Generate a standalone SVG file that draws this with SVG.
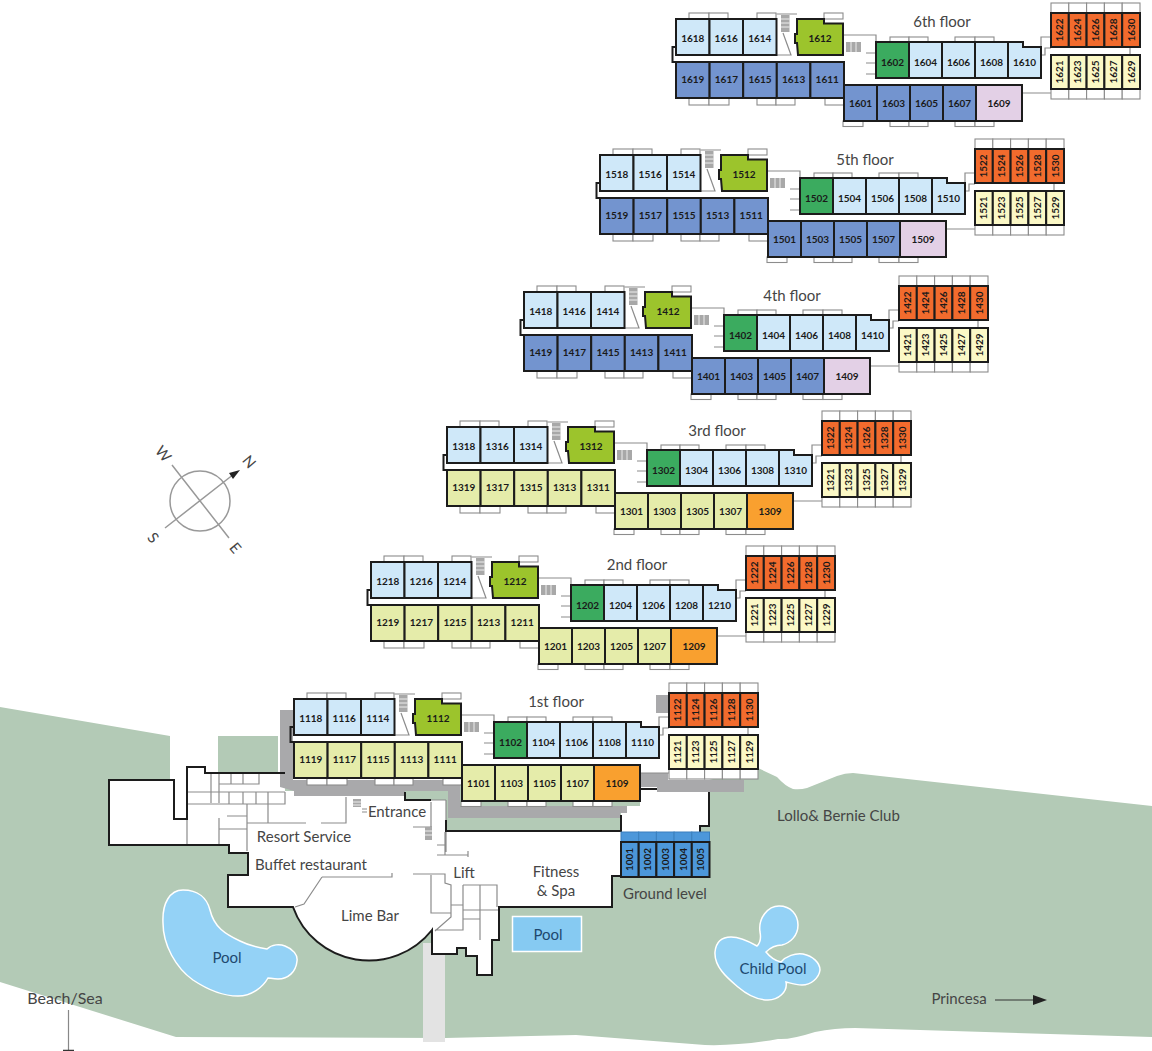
<svg xmlns="http://www.w3.org/2000/svg" xmlns:xlink="http://www.w3.org/1999/xlink" width="1152" height="1051" viewBox="0 0 1152 1051">
<style>
text{font-family:"Lato","Liberation Sans",sans-serif;fill:#454545;text-anchor:middle}
.l{font-size:15px}
.f{font-size:15px}
.p{font-size:15px;fill:#20486e}
.n{font-size:10px;font-weight:700;fill:#1a1a1a}
.m{stroke:#1c1c1c;stroke-width:2}
.lb{fill:#cfe8f9}.db{fill:#7394cf}.lg{fill:#e5ecaa}.ye{fill:#fbf8c6}.or{fill:#f26b2d}.am{fill:#f9a02f}.pu{fill:#e3d0e6}.gr{fill:#3bab5f}.li{fill:#9cc42c}.gb{fill:#4c97da}
.b{fill:#fff;stroke:#8c8c8c;stroke-width:1.1}
.g{fill:none;stroke:#8c8c8c;stroke-width:1.2}
.k{fill:none;stroke:#1c1c1c;stroke-width:2}
.w{fill:#94d2f6;stroke:#fff;stroke-width:1.5}
.s{fill:#a8a8a8}
.st{stroke:#fff;stroke-width:.8}
</style>
<defs>
<g id="frame">
<rect class="b" x="689" y="13" width="20" height="6"/><rect class="b" x="709" y="13" width="19" height="6"/><rect class="b" x="757" y="13" width="19" height="6"/><rect class="b" x="824" y="13" width="19" height="6"/>
<rect class="b" x="689" y="98" width="20" height="7"/><rect class="b" x="709" y="98" width="20" height="7"/><rect class="b" x="757" y="98" width="19" height="7"/><rect class="b" x="776" y="98" width="19" height="7"/><rect class="b" x="825" y="98" width="19" height="7"/>
<rect class="b" x="890" y="37" width="19" height="5"/><rect class="b" x="909" y="37" width="19" height="5"/><rect class="b" x="955" y="37" width="20" height="5"/><rect class="b" x="975" y="37" width="19" height="5"/>
<rect class="b" x="843" y="121" width="20" height="5.500"/><rect class="b" x="890" y="121" width="19" height="5.500"/><rect class="b" x="909" y="121" width="19" height="5.500"/><rect class="b" x="955" y="121" width="20" height="5.500"/><rect class="b" x="975" y="121" width="19" height="5.500"/>
<rect class="b" x="1051" y="3" width="17.800" height="10"/><rect class="b" x="1068.800" y="3" width="17.800" height="10"/><rect class="b" x="1086.600" y="3" width="17.800" height="10"/><rect class="b" x="1104.400" y="3" width="17.800" height="10"/><rect class="b" x="1122.200" y="3" width="17.800" height="10"/>
<rect class="b" x="1051" y="89" width="17.800" height="10"/><rect class="b" x="1068.800" y="89" width="17.800" height="10"/><rect class="b" x="1086.600" y="89" width="17.800" height="10"/><rect class="b" x="1104.400" y="89" width="17.800" height="10"/><rect class="b" x="1122.200" y="89" width="17.800" height="10"/>
<path class="g" d="M776.500,14H797M783,33L791,55H776.500M843,35H876V42M866,53H876M866,63H876M866,74H876M1041,55H1045V48H1051M1041,47V37H1051M1130,47V55M1022,93H1051"/>
<rect class="s" x="781" y="15" width="8.500" height="17"/><path class="st" d="M781,19H789.500M781,23H789.500M781,27H789.500"/>
<rect class="s" x="846" y="42" width="15" height="10"/><path class="st" d="M851,42V52M856,42V52"/>
<path class="k" d="M676,47H672.500V62H676"/>
</g>
</defs>

<g id="ground-plan">
<path id="lawn" fill="#b3cab6" d="M0,707L170,736V780H218V736H278V780H709L758,768L777,777Q785,786 793,789Q800,790 807,788L837,776Q845,773 853,773L1152,806V1037L855,1028Q835,1028 815,1032Q790,1040 778,1039Q740,1046 705,1045L576,1035L445,1038L176,1037L0,982Z"/>
<rect x="170" y="736" width="48" height="84" fill="#fff"/>
<rect id="path-to-beach" x="423" y="943" width="22" height="99" fill="#e3e3e3"/>
<path id="building-fill" fill="#fff" d="M109,780H174V819H187V767H205V773H285V791H405V800H446V832H621V806H640V780H709V826H700V832H709V877H612V907H499V940H492V975H477V956H466V948H457V954H432V930A80.500,80.500 0 0 1 293,908H228V875H248V853H229V845H109Z"/>
<rect x="446" y="816" width="175" height="15" fill="#b3cab6"/>
<rect x="407" y="791" width="41" height="9" fill="#b3cab6"/>
<path id="terrace" fill="#a9a9ab" d="M280,710H293V780H460V806H627V813H620V818H448V791H405V796H294V791L280,787ZM640,773H668V780H744V792H657V787H640ZM656,695H668V713H656Z"/>
<path id="interior" class="g" d="M187,818V845M211,773V803M219,773V803M219,784H259V773M231,773V784M243,773V784M187,792H285M187,804H285V792M229,792V804M243,792V804M256,792V804M268,792V823M247,804V851M247,823H306M321,823H346V797M227,816H247M219,818V845M219,829H247M322,877H392V873M322,877L304,904L295,907M413,874H445V883L451,885V917L435,931M431,875V913H451M463,885H497V907M463,885V930H435M480,885V940M451,905H463M463,910H498M463,919H480M437,845H445M437,855H468M468,851V857M445,832V855M446,800V852M413,827H432M431,802V827M405,800H446M362,809H367M362,812H367"/>
<rect class="s" x="353" y="799" width="8" height="8"/>
<path class="st" d="M353,802H361M353,805H361"/>
<rect class="s" x="425" y="827" width="7" height="13"/>
<path class="st" d="M425,831H432M425,835H432"/>
<path id="building-wall" class="k" d="M285,773H205V767H187V819H174V780H109V845H229V853H248V875H228V907H293A80.500,80.500 0 0 0 432,930V954H457V948H466V956H477V975H492V940H499V907H612V876H621M709,792V826H700V832M640,789H657M446,820V831H621V815M405,792V800H431"/>
<g id="pool-left"><path class="w" d="M163,923C162,903 170,890 183,890C198,890 207,898 210,910C214,927 225,934 240,941C250,946 260,948 267,949C272,944 280,944 285,946C293,949 298,955 297,961C296,972 288,979 278,979C273,979 270,978 268,978C263,987 252,996 238,996C222,996 205,988 193,980C176,968 163,945 163,923Z"/><text class="p" x="227" y="963">Pool</text></g>
<g id="pool-fitness"><rect x="512.500" y="916.500" width="69" height="35" fill="#86caf2" stroke="#fff" stroke-width="1.500"/><text class="p" x="548" y="940">Pool</text></g>
<g id="pool-child"><path class="w" d="M715,952C716,942 722,937 731,937C740,937 750,942 757,946C760,943 761,937 760,932C758,918 768,906 779,906C791,906 798,915 798,925C798,936 790,943 782,945C777,945 771,947 766,952C770,957 776,961 781,962C786,956 795,953 803,954C813,956 820,963 820,970C819,978 811,985 802,985C796,985 790,983 786,982C788,992 778,1000 768,1000C755,1000 745,993 738,987C730,980 714,968 715,952Z"/><text class="p" x="773" y="974">Child Pool</text></g>
</g>

<g id="compass">
<circle cx="200" cy="501" r="30" fill="none" stroke="#999" stroke-width="1.500"/>
<path fill="none" stroke="#999" stroke-width="1.500" d="M172,465L229,538M165,528L234,474"/>
<path fill="#222" d="M240,470L229,473L233,479Z"/>
<text class="l" font-size="14" transform="translate(249,462) rotate(50)" y="5">N</text>
<text class="l" transform="translate(163,454) rotate(50)" y="5">W</text>
<text class="l" transform="translate(153,538) rotate(50)" y="5">S</text>
<text class="l" transform="translate(235,548) rotate(50)" y="5">E</text>
</g>

<g id="labels">
<text class="l" x="304" y="842">Resort Service</text>
<text class="l" x="311" y="870">Buffet restaurant</text>
<text class="l" x="397" y="817">Entrance</text>
<text class="l" x="370" y="921">Lime Bar</text>
<text class="l" x="464" y="878">Lift</text>
<text class="l" x="556" y="877">Fitness</text>
<text class="l" x="556" y="896">&amp; Spa</text>
<text class="l" x="665" y="899">Ground level</text>
<text class="l" x="838.500" y="821">Lollo&amp; Bernie Club</text>
<text class="l" x="959" y="1004">Princesa</text>
<text class="l" x="65" y="1004" style="font-size:16px">Beach/Sea</text>
</g>

<g id="connectors">
<path fill="none" stroke="#333" stroke-width="1" d="M995,1000H1034"/>
<path fill="#222" d="M1033,995L1047,1000L1033,1005Z"/>
<path fill="none" stroke="#888" stroke-width="1.200" d="M68.500,1010V1050"/>
<path fill="none" stroke="#333" stroke-width="1.500" d="M63,1050.500H74"/>
</g>

<g id="ground-level">
<rect x="621" y="832" width="17.700" height="10" class="gb" stroke="#3a7fbd"/><rect x="638.700" y="832" width="17.700" height="10" class="gb" stroke="#3a7fbd"/><rect x="656.400" y="832" width="17.700" height="10" class="gb" stroke="#3a7fbd"/><rect x="674.100" y="832" width="17.700" height="10" class="gb" stroke="#3a7fbd"/><rect x="691.800" y="832" width="17.700" height="10" class="gb" stroke="#3a7fbd"/>
<g id="r1001"><rect class="m gb" x="621" y="842" width="17.700" height="35"/><text class="n" transform="translate(629.900,859.500) rotate(-90)" y="3.500">1001</text></g>
<g id="r1002"><rect class="m gb" x="638.700" y="842" width="17.700" height="35"/><text class="n" transform="translate(647.600,859.500) rotate(-90)" y="3.500">1002</text></g>
<g id="r1003"><rect class="m gb" x="656.400" y="842" width="17.700" height="35"/><text class="n" transform="translate(665.300,859.500) rotate(-90)" y="3.500">1003</text></g>
<g id="r1004"><rect class="m gb" x="674.100" y="842" width="17.700" height="35"/><text class="n" transform="translate(683,859.500) rotate(-90)" y="3.500">1004</text></g>
<g id="r1005"><rect class="m gb" x="691.800" y="842" width="17.700" height="35"/><text class="n" transform="translate(700.700,859.500) rotate(-90)" y="3.500">1005</text></g>
</g>

<g id="floor-6"><use href="#frame" xlink:href="#frame"/>
<text class="f" x="942" y="27">6th floor</text>
<g id="r1618"><rect class="m lb" x="676" y="19" width="33.500" height="36"/><text class="n" x="692.800" y="41.500">1618</text></g>
<g id="r1616"><rect class="m lb" x="709.500" y="19" width="33.500" height="36"/><text class="n" x="726.200" y="41.500">1616</text></g>
<g id="r1614"><rect class="m lb" x="743" y="19" width="33.500" height="36"/><text class="n" x="759.800" y="41.500">1614</text></g>
<g id="r1612"><path class="m li" d="M797,19H824V23.500H843V55H798L797,43H795V34H797Z"/><text class="n" x="820" y="41.500">1612</text></g>
<g id="r1619"><rect class="m db" x="676" y="62" width="33.600" height="36"/><text class="n" x="692.800" y="82.500">1619</text></g>
<g id="r1617"><rect class="m db" x="709.600" y="62" width="33.600" height="36"/><text class="n" x="726.400" y="82.500">1617</text></g>
<g id="r1615"><rect class="m db" x="743.200" y="62" width="33.600" height="36"/><text class="n" x="760" y="82.500">1615</text></g>
<g id="r1613"><rect class="m db" x="776.800" y="62" width="33.600" height="36"/><text class="n" x="793.600" y="82.500">1613</text></g>
<g id="r1611"><rect class="m db" x="810.400" y="62" width="33.600" height="36"/><text class="n" x="827.200" y="82.500">1611</text></g>
<g id="r1602"><rect class="m gr" x="876" y="42" width="33" height="36"/><text class="n" x="892.500" y="65.500">1602</text></g>
<g id="r1604"><rect class="m lb" x="909" y="42" width="33" height="36"/><text class="n" x="925.500" y="65.500">1604</text></g>
<g id="r1606"><rect class="m lb" x="942" y="42" width="33" height="36"/><text class="n" x="958.500" y="65.500">1606</text></g>
<g id="r1608"><rect class="m lb" x="975" y="42" width="33" height="36"/><text class="n" x="991.500" y="65.500">1608</text></g>
<g id="r1610"><path class="m lb" d="M1008,42H1023V47H1041V78H1008Z"/><text class="n" x="1024.500" y="65.500">1610</text></g>
<g id="r1601"><rect class="m db" x="844" y="85" width="33" height="36"/><text class="n" x="860.500" y="106.500">1601</text></g>
<g id="r1603"><rect class="m db" x="877" y="85" width="33" height="36"/><text class="n" x="893.500" y="106.500">1603</text></g>
<g id="r1605"><rect class="m db" x="910" y="85" width="33" height="36"/><text class="n" x="926.500" y="106.500">1605</text></g>
<g id="r1607"><rect class="m db" x="943" y="85" width="33" height="36"/><text class="n" x="959.500" y="106.500">1607</text></g>
<g id="r1609"><rect class="m pu" x="976" y="85" width="46" height="36"/><text class="n" x="999" y="106.500">1609</text></g>
<g id="r1622"><rect class="m or" x="1051" y="13" width="17.800" height="34"/><text class="n" transform="translate(1059.900,30) rotate(-90)" y="3.500">1622</text></g>
<g id="r1624"><rect class="m or" x="1068.800" y="13" width="17.800" height="34"/><text class="n" transform="translate(1077.700,30) rotate(-90)" y="3.500">1624</text></g>
<g id="r1626"><rect class="m or" x="1086.600" y="13" width="17.800" height="34"/><text class="n" transform="translate(1095.500,30) rotate(-90)" y="3.500">1626</text></g>
<g id="r1628"><rect class="m or" x="1104.400" y="13" width="17.800" height="34"/><text class="n" transform="translate(1113.300,30) rotate(-90)" y="3.500">1628</text></g>
<g id="r1630"><rect class="m or" x="1122.200" y="13" width="17.800" height="34"/><text class="n" transform="translate(1131.100,30) rotate(-90)" y="3.500">1630</text></g>
<g id="r1621"><rect class="m ye" x="1051" y="55" width="17.800" height="34"/><text class="n" transform="translate(1059.900,72) rotate(-90)" y="3.500">1621</text></g>
<g id="r1623"><rect class="m ye" x="1068.800" y="55" width="17.800" height="34"/><text class="n" transform="translate(1077.700,72) rotate(-90)" y="3.500">1623</text></g>
<g id="r1625"><rect class="m ye" x="1086.600" y="55" width="17.800" height="34"/><text class="n" transform="translate(1095.500,72) rotate(-90)" y="3.500">1625</text></g>
<g id="r1627"><rect class="m ye" x="1104.400" y="55" width="17.800" height="34"/><text class="n" transform="translate(1113.300,72) rotate(-90)" y="3.500">1627</text></g>
<g id="r1629"><rect class="m ye" x="1122.200" y="55" width="17.800" height="34"/><text class="n" transform="translate(1131.100,72) rotate(-90)" y="3.500">1629</text></g>
</g>

<g id="floor-5" transform="translate(-76,136)"><use href="#frame" xlink:href="#frame"/>
<text class="f" x="941" y="29">5th floor</text>
<g id="r1518"><rect class="m lb" x="676" y="19" width="33.500" height="36"/><text class="n" x="692.800" y="41.500">1518</text></g>
<g id="r1516"><rect class="m lb" x="709.500" y="19" width="33.500" height="36"/><text class="n" x="726.200" y="41.500">1516</text></g>
<g id="r1514"><rect class="m lb" x="743" y="19" width="33.500" height="36"/><text class="n" x="759.800" y="41.500">1514</text></g>
<g id="r1512"><path class="m li" d="M797,19H824V23.500H843V55H798L797,43H795V34H797Z"/><text class="n" x="820" y="41.500">1512</text></g>
<g id="r1519"><rect class="m db" x="676" y="62" width="33.600" height="36"/><text class="n" x="692.800" y="82.500">1519</text></g>
<g id="r1517"><rect class="m db" x="709.600" y="62" width="33.600" height="36"/><text class="n" x="726.400" y="82.500">1517</text></g>
<g id="r1515"><rect class="m db" x="743.200" y="62" width="33.600" height="36"/><text class="n" x="760" y="82.500">1515</text></g>
<g id="r1513"><rect class="m db" x="776.800" y="62" width="33.600" height="36"/><text class="n" x="793.600" y="82.500">1513</text></g>
<g id="r1511"><rect class="m db" x="810.400" y="62" width="33.600" height="36"/><text class="n" x="827.200" y="82.500">1511</text></g>
<g id="r1502"><rect class="m gr" x="876" y="42" width="33" height="36"/><text class="n" x="892.500" y="65.500">1502</text></g>
<g id="r1504"><rect class="m lb" x="909" y="42" width="33" height="36"/><text class="n" x="925.500" y="65.500">1504</text></g>
<g id="r1506"><rect class="m lb" x="942" y="42" width="33" height="36"/><text class="n" x="958.500" y="65.500">1506</text></g>
<g id="r1508"><rect class="m lb" x="975" y="42" width="33" height="36"/><text class="n" x="991.500" y="65.500">1508</text></g>
<g id="r1510"><path class="m lb" d="M1008,42H1023V47H1041V78H1008Z"/><text class="n" x="1024.500" y="65.500">1510</text></g>
<g id="r1501"><rect class="m db" x="844" y="85" width="33" height="36"/><text class="n" x="860.500" y="106.500">1501</text></g>
<g id="r1503"><rect class="m db" x="877" y="85" width="33" height="36"/><text class="n" x="893.500" y="106.500">1503</text></g>
<g id="r1505"><rect class="m db" x="910" y="85" width="33" height="36"/><text class="n" x="926.500" y="106.500">1505</text></g>
<g id="r1507"><rect class="m db" x="943" y="85" width="33" height="36"/><text class="n" x="959.500" y="106.500">1507</text></g>
<g id="r1509"><rect class="m pu" x="976" y="85" width="46" height="36"/><text class="n" x="999" y="106.500">1509</text></g>
<g id="r1522"><rect class="m or" x="1051" y="13" width="17.800" height="34"/><text class="n" transform="translate(1059.900,30) rotate(-90)" y="3.500">1522</text></g>
<g id="r1524"><rect class="m or" x="1068.800" y="13" width="17.800" height="34"/><text class="n" transform="translate(1077.700,30) rotate(-90)" y="3.500">1524</text></g>
<g id="r1526"><rect class="m or" x="1086.600" y="13" width="17.800" height="34"/><text class="n" transform="translate(1095.500,30) rotate(-90)" y="3.500">1526</text></g>
<g id="r1528"><rect class="m or" x="1104.400" y="13" width="17.800" height="34"/><text class="n" transform="translate(1113.300,30) rotate(-90)" y="3.500">1528</text></g>
<g id="r1530"><rect class="m or" x="1122.200" y="13" width="17.800" height="34"/><text class="n" transform="translate(1131.100,30) rotate(-90)" y="3.500">1530</text></g>
<g id="r1521"><rect class="m ye" x="1051" y="55" width="17.800" height="34"/><text class="n" transform="translate(1059.900,72) rotate(-90)" y="3.500">1521</text></g>
<g id="r1523"><rect class="m ye" x="1068.800" y="55" width="17.800" height="34"/><text class="n" transform="translate(1077.700,72) rotate(-90)" y="3.500">1523</text></g>
<g id="r1525"><rect class="m ye" x="1086.600" y="55" width="17.800" height="34"/><text class="n" transform="translate(1095.500,72) rotate(-90)" y="3.500">1525</text></g>
<g id="r1527"><rect class="m ye" x="1104.400" y="55" width="17.800" height="34"/><text class="n" transform="translate(1113.300,72) rotate(-90)" y="3.500">1527</text></g>
<g id="r1529"><rect class="m ye" x="1122.200" y="55" width="17.800" height="34"/><text class="n" transform="translate(1131.100,72) rotate(-90)" y="3.500">1529</text></g>
</g>

<g id="floor-4" transform="translate(-152,273)"><use href="#frame" xlink:href="#frame"/>
<text class="f" x="944" y="28">4th floor</text>
<g id="r1418"><rect class="m lb" x="676" y="19" width="33.500" height="36"/><text class="n" x="692.800" y="41.500">1418</text></g>
<g id="r1416"><rect class="m lb" x="709.500" y="19" width="33.500" height="36"/><text class="n" x="726.200" y="41.500">1416</text></g>
<g id="r1414"><rect class="m lb" x="743" y="19" width="33.500" height="36"/><text class="n" x="759.800" y="41.500">1414</text></g>
<g id="r1412"><path class="m li" d="M797,19H824V23.500H843V55H798L797,43H795V34H797Z"/><text class="n" x="820" y="41.500">1412</text></g>
<g id="r1419"><rect class="m db" x="676" y="62" width="33.600" height="36"/><text class="n" x="692.800" y="82.500">1419</text></g>
<g id="r1417"><rect class="m db" x="709.600" y="62" width="33.600" height="36"/><text class="n" x="726.400" y="82.500">1417</text></g>
<g id="r1415"><rect class="m db" x="743.200" y="62" width="33.600" height="36"/><text class="n" x="760" y="82.500">1415</text></g>
<g id="r1413"><rect class="m db" x="776.800" y="62" width="33.600" height="36"/><text class="n" x="793.600" y="82.500">1413</text></g>
<g id="r1411"><rect class="m db" x="810.400" y="62" width="33.600" height="36"/><text class="n" x="827.200" y="82.500">1411</text></g>
<g id="r1402"><rect class="m gr" x="876" y="42" width="33" height="36"/><text class="n" x="892.500" y="65.500">1402</text></g>
<g id="r1404"><rect class="m lb" x="909" y="42" width="33" height="36"/><text class="n" x="925.500" y="65.500">1404</text></g>
<g id="r1406"><rect class="m lb" x="942" y="42" width="33" height="36"/><text class="n" x="958.500" y="65.500">1406</text></g>
<g id="r1408"><rect class="m lb" x="975" y="42" width="33" height="36"/><text class="n" x="991.500" y="65.500">1408</text></g>
<g id="r1410"><path class="m lb" d="M1008,42H1023V47H1041V78H1008Z"/><text class="n" x="1024.500" y="65.500">1410</text></g>
<g id="r1401"><rect class="m db" x="844" y="85" width="33" height="36"/><text class="n" x="860.500" y="106.500">1401</text></g>
<g id="r1403"><rect class="m db" x="877" y="85" width="33" height="36"/><text class="n" x="893.500" y="106.500">1403</text></g>
<g id="r1405"><rect class="m db" x="910" y="85" width="33" height="36"/><text class="n" x="926.500" y="106.500">1405</text></g>
<g id="r1407"><rect class="m db" x="943" y="85" width="33" height="36"/><text class="n" x="959.500" y="106.500">1407</text></g>
<g id="r1409"><rect class="m pu" x="976" y="85" width="46" height="36"/><text class="n" x="999" y="106.500">1409</text></g>
<g id="r1422"><rect class="m or" x="1051" y="13" width="17.800" height="34"/><text class="n" transform="translate(1059.900,30) rotate(-90)" y="3.500">1422</text></g>
<g id="r1424"><rect class="m or" x="1068.800" y="13" width="17.800" height="34"/><text class="n" transform="translate(1077.700,30) rotate(-90)" y="3.500">1424</text></g>
<g id="r1426"><rect class="m or" x="1086.600" y="13" width="17.800" height="34"/><text class="n" transform="translate(1095.500,30) rotate(-90)" y="3.500">1426</text></g>
<g id="r1428"><rect class="m or" x="1104.400" y="13" width="17.800" height="34"/><text class="n" transform="translate(1113.300,30) rotate(-90)" y="3.500">1428</text></g>
<g id="r1430"><rect class="m or" x="1122.200" y="13" width="17.800" height="34"/><text class="n" transform="translate(1131.100,30) rotate(-90)" y="3.500">1430</text></g>
<g id="r1421"><rect class="m ye" x="1051" y="55" width="17.800" height="34"/><text class="n" transform="translate(1059.900,72) rotate(-90)" y="3.500">1421</text></g>
<g id="r1423"><rect class="m ye" x="1068.800" y="55" width="17.800" height="34"/><text class="n" transform="translate(1077.700,72) rotate(-90)" y="3.500">1423</text></g>
<g id="r1425"><rect class="m ye" x="1086.600" y="55" width="17.800" height="34"/><text class="n" transform="translate(1095.500,72) rotate(-90)" y="3.500">1425</text></g>
<g id="r1427"><rect class="m ye" x="1104.400" y="55" width="17.800" height="34"/><text class="n" transform="translate(1113.300,72) rotate(-90)" y="3.500">1427</text></g>
<g id="r1429"><rect class="m ye" x="1122.200" y="55" width="17.800" height="34"/><text class="n" transform="translate(1131.100,72) rotate(-90)" y="3.500">1429</text></g>
</g>

<g id="floor-3" transform="translate(-229,408)"><use href="#frame" xlink:href="#frame"/>
<text class="f" x="946" y="28">3rd floor</text>
<g id="r1318"><rect class="m lb" x="676" y="19" width="33.500" height="36"/><text class="n" x="692.800" y="41.500">1318</text></g>
<g id="r1316"><rect class="m lb" x="709.500" y="19" width="33.500" height="36"/><text class="n" x="726.200" y="41.500">1316</text></g>
<g id="r1314"><rect class="m lb" x="743" y="19" width="33.500" height="36"/><text class="n" x="759.800" y="41.500">1314</text></g>
<g id="r1312"><path class="m li" d="M797,19H824V23.500H843V55H798L797,43H795V34H797Z"/><text class="n" x="820" y="41.500">1312</text></g>
<g id="r1319"><rect class="m lg" x="676" y="62" width="33.600" height="36"/><text class="n" x="692.800" y="82.500">1319</text></g>
<g id="r1317"><rect class="m lg" x="709.600" y="62" width="33.600" height="36"/><text class="n" x="726.400" y="82.500">1317</text></g>
<g id="r1315"><rect class="m lg" x="743.200" y="62" width="33.600" height="36"/><text class="n" x="760" y="82.500">1315</text></g>
<g id="r1313"><rect class="m lg" x="776.800" y="62" width="33.600" height="36"/><text class="n" x="793.600" y="82.500">1313</text></g>
<g id="r1311"><rect class="m lg" x="810.400" y="62" width="33.600" height="36"/><text class="n" x="827.200" y="82.500">1311</text></g>
<g id="r1302"><rect class="m gr" x="876" y="42" width="33" height="36"/><text class="n" x="892.500" y="65.500">1302</text></g>
<g id="r1304"><rect class="m lb" x="909" y="42" width="33" height="36"/><text class="n" x="925.500" y="65.500">1304</text></g>
<g id="r1306"><rect class="m lb" x="942" y="42" width="33" height="36"/><text class="n" x="958.500" y="65.500">1306</text></g>
<g id="r1308"><rect class="m lb" x="975" y="42" width="33" height="36"/><text class="n" x="991.500" y="65.500">1308</text></g>
<g id="r1310"><path class="m lb" d="M1008,42H1023V47H1041V78H1008Z"/><text class="n" x="1024.500" y="65.500">1310</text></g>
<g id="r1301"><rect class="m lg" x="844" y="85" width="33" height="36"/><text class="n" x="860.500" y="106.500">1301</text></g>
<g id="r1303"><rect class="m lg" x="877" y="85" width="33" height="36"/><text class="n" x="893.500" y="106.500">1303</text></g>
<g id="r1305"><rect class="m lg" x="910" y="85" width="33" height="36"/><text class="n" x="926.500" y="106.500">1305</text></g>
<g id="r1307"><rect class="m lg" x="943" y="85" width="33" height="36"/><text class="n" x="959.500" y="106.500">1307</text></g>
<g id="r1309"><rect class="m am" x="976" y="85" width="46" height="36"/><text class="n" x="999" y="106.500">1309</text></g>
<g id="r1322"><rect class="m or" x="1051" y="13" width="17.800" height="34"/><text class="n" transform="translate(1059.900,30) rotate(-90)" y="3.500">1322</text></g>
<g id="r1324"><rect class="m or" x="1068.800" y="13" width="17.800" height="34"/><text class="n" transform="translate(1077.700,30) rotate(-90)" y="3.500">1324</text></g>
<g id="r1326"><rect class="m or" x="1086.600" y="13" width="17.800" height="34"/><text class="n" transform="translate(1095.500,30) rotate(-90)" y="3.500">1326</text></g>
<g id="r1328"><rect class="m or" x="1104.400" y="13" width="17.800" height="34"/><text class="n" transform="translate(1113.300,30) rotate(-90)" y="3.500">1328</text></g>
<g id="r1330"><rect class="m or" x="1122.200" y="13" width="17.800" height="34"/><text class="n" transform="translate(1131.100,30) rotate(-90)" y="3.500">1330</text></g>
<g id="r1321"><rect class="m ye" x="1051" y="55" width="17.800" height="34"/><text class="n" transform="translate(1059.900,72) rotate(-90)" y="3.500">1321</text></g>
<g id="r1323"><rect class="m ye" x="1068.800" y="55" width="17.800" height="34"/><text class="n" transform="translate(1077.700,72) rotate(-90)" y="3.500">1323</text></g>
<g id="r1325"><rect class="m ye" x="1086.600" y="55" width="17.800" height="34"/><text class="n" transform="translate(1095.500,72) rotate(-90)" y="3.500">1325</text></g>
<g id="r1327"><rect class="m ye" x="1104.400" y="55" width="17.800" height="34"/><text class="n" transform="translate(1113.300,72) rotate(-90)" y="3.500">1327</text></g>
<g id="r1329"><rect class="m ye" x="1122.200" y="55" width="17.800" height="34"/><text class="n" transform="translate(1131.100,72) rotate(-90)" y="3.500">1329</text></g>
</g>

<g id="floor-2" transform="translate(-305,543)"><use href="#frame" xlink:href="#frame"/>
<text class="f" x="942" y="27">2nd floor</text>
<g id="r1218"><rect class="m lb" x="676" y="19" width="33.500" height="36"/><text class="n" x="692.800" y="41.500">1218</text></g>
<g id="r1216"><rect class="m lb" x="709.500" y="19" width="33.500" height="36"/><text class="n" x="726.200" y="41.500">1216</text></g>
<g id="r1214"><rect class="m lb" x="743" y="19" width="33.500" height="36"/><text class="n" x="759.800" y="41.500">1214</text></g>
<g id="r1212"><path class="m li" d="M797,19H824V23.500H843V55H798L797,43H795V34H797Z"/><text class="n" x="820" y="41.500">1212</text></g>
<g id="r1219"><rect class="m lg" x="676" y="62" width="33.600" height="36"/><text class="n" x="692.800" y="82.500">1219</text></g>
<g id="r1217"><rect class="m lg" x="709.600" y="62" width="33.600" height="36"/><text class="n" x="726.400" y="82.500">1217</text></g>
<g id="r1215"><rect class="m lg" x="743.200" y="62" width="33.600" height="36"/><text class="n" x="760" y="82.500">1215</text></g>
<g id="r1213"><rect class="m lg" x="776.800" y="62" width="33.600" height="36"/><text class="n" x="793.600" y="82.500">1213</text></g>
<g id="r1211"><rect class="m lg" x="810.400" y="62" width="33.600" height="36"/><text class="n" x="827.200" y="82.500">1211</text></g>
<g id="r1202"><rect class="m gr" x="876" y="42" width="33" height="36"/><text class="n" x="892.500" y="65.500">1202</text></g>
<g id="r1204"><rect class="m lb" x="909" y="42" width="33" height="36"/><text class="n" x="925.500" y="65.500">1204</text></g>
<g id="r1206"><rect class="m lb" x="942" y="42" width="33" height="36"/><text class="n" x="958.500" y="65.500">1206</text></g>
<g id="r1208"><rect class="m lb" x="975" y="42" width="33" height="36"/><text class="n" x="991.500" y="65.500">1208</text></g>
<g id="r1210"><path class="m lb" d="M1008,42H1023V47H1041V78H1008Z"/><text class="n" x="1024.500" y="65.500">1210</text></g>
<g id="r1201"><rect class="m lg" x="844" y="85" width="33" height="36"/><text class="n" x="860.500" y="106.500">1201</text></g>
<g id="r1203"><rect class="m lg" x="877" y="85" width="33" height="36"/><text class="n" x="893.500" y="106.500">1203</text></g>
<g id="r1205"><rect class="m lg" x="910" y="85" width="33" height="36"/><text class="n" x="926.500" y="106.500">1205</text></g>
<g id="r1207"><rect class="m lg" x="943" y="85" width="33" height="36"/><text class="n" x="959.500" y="106.500">1207</text></g>
<g id="r1209"><rect class="m am" x="976" y="85" width="46" height="36"/><text class="n" x="999" y="106.500">1209</text></g>
<g id="r1222"><rect class="m or" x="1051" y="13" width="17.800" height="34"/><text class="n" transform="translate(1059.900,30) rotate(-90)" y="3.500">1222</text></g>
<g id="r1224"><rect class="m or" x="1068.800" y="13" width="17.800" height="34"/><text class="n" transform="translate(1077.700,30) rotate(-90)" y="3.500">1224</text></g>
<g id="r1226"><rect class="m or" x="1086.600" y="13" width="17.800" height="34"/><text class="n" transform="translate(1095.500,30) rotate(-90)" y="3.500">1226</text></g>
<g id="r1228"><rect class="m or" x="1104.400" y="13" width="17.800" height="34"/><text class="n" transform="translate(1113.300,30) rotate(-90)" y="3.500">1228</text></g>
<g id="r1230"><rect class="m or" x="1122.200" y="13" width="17.800" height="34"/><text class="n" transform="translate(1131.100,30) rotate(-90)" y="3.500">1230</text></g>
<g id="r1221"><rect class="m ye" x="1051" y="55" width="17.800" height="34"/><text class="n" transform="translate(1059.900,72) rotate(-90)" y="3.500">1221</text></g>
<g id="r1223"><rect class="m ye" x="1068.800" y="55" width="17.800" height="34"/><text class="n" transform="translate(1077.700,72) rotate(-90)" y="3.500">1223</text></g>
<g id="r1225"><rect class="m ye" x="1086.600" y="55" width="17.800" height="34"/><text class="n" transform="translate(1095.500,72) rotate(-90)" y="3.500">1225</text></g>
<g id="r1227"><rect class="m ye" x="1104.400" y="55" width="17.800" height="34"/><text class="n" transform="translate(1113.300,72) rotate(-90)" y="3.500">1227</text></g>
<g id="r1229"><rect class="m ye" x="1122.200" y="55" width="17.800" height="34"/><text class="n" transform="translate(1131.100,72) rotate(-90)" y="3.500">1229</text></g>
</g>

<g id="floor-1" transform="translate(-382,680)"><use href="#frame" xlink:href="#frame"/>
<text class="f" x="938" y="27">1st floor</text>
<g id="r1118"><rect class="m lb" x="676" y="19" width="33.500" height="36"/><text class="n" x="692.800" y="41.500">1118</text></g>
<g id="r1116"><rect class="m lb" x="709.500" y="19" width="33.500" height="36"/><text class="n" x="726.200" y="41.500">1116</text></g>
<g id="r1114"><rect class="m lb" x="743" y="19" width="33.500" height="36"/><text class="n" x="759.800" y="41.500">1114</text></g>
<g id="r1112"><path class="m li" d="M797,19H824V23.500H843V55H798L797,43H795V34H797Z"/><text class="n" x="820" y="41.500">1112</text></g>
<g id="r1119"><rect class="m lg" x="676" y="62" width="33.600" height="36"/><text class="n" x="692.800" y="82.500">1119</text></g>
<g id="r1117"><rect class="m lg" x="709.600" y="62" width="33.600" height="36"/><text class="n" x="726.400" y="82.500">1117</text></g>
<g id="r1115"><rect class="m lg" x="743.200" y="62" width="33.600" height="36"/><text class="n" x="760" y="82.500">1115</text></g>
<g id="r1113"><rect class="m lg" x="776.800" y="62" width="33.600" height="36"/><text class="n" x="793.600" y="82.500">1113</text></g>
<g id="r1111"><rect class="m lg" x="810.400" y="62" width="33.600" height="36"/><text class="n" x="827.200" y="82.500">1111</text></g>
<g id="r1102"><rect class="m gr" x="876" y="42" width="33" height="36"/><text class="n" x="892.500" y="65.500">1102</text></g>
<g id="r1104"><rect class="m lb" x="909" y="42" width="33" height="36"/><text class="n" x="925.500" y="65.500">1104</text></g>
<g id="r1106"><rect class="m lb" x="942" y="42" width="33" height="36"/><text class="n" x="958.500" y="65.500">1106</text></g>
<g id="r1108"><rect class="m lb" x="975" y="42" width="33" height="36"/><text class="n" x="991.500" y="65.500">1108</text></g>
<g id="r1110"><path class="m lb" d="M1008,42H1023V47H1041V78H1008Z"/><text class="n" x="1024.500" y="65.500">1110</text></g>
<g id="r1101"><rect class="m lg" x="844" y="85" width="33" height="36"/><text class="n" x="860.500" y="106.500">1101</text></g>
<g id="r1103"><rect class="m lg" x="877" y="85" width="33" height="36"/><text class="n" x="893.500" y="106.500">1103</text></g>
<g id="r1105"><rect class="m lg" x="910" y="85" width="33" height="36"/><text class="n" x="926.500" y="106.500">1105</text></g>
<g id="r1107"><rect class="m lg" x="943" y="85" width="33" height="36"/><text class="n" x="959.500" y="106.500">1107</text></g>
<g id="r1109"><rect class="m am" x="976" y="85" width="46" height="36"/><text class="n" x="999" y="106.500">1109</text></g>
<g id="r1122"><rect class="m or" x="1051" y="13" width="17.800" height="34"/><text class="n" transform="translate(1059.900,30) rotate(-90)" y="3.500">1122</text></g>
<g id="r1124"><rect class="m or" x="1068.800" y="13" width="17.800" height="34"/><text class="n" transform="translate(1077.700,30) rotate(-90)" y="3.500">1124</text></g>
<g id="r1126"><rect class="m or" x="1086.600" y="13" width="17.800" height="34"/><text class="n" transform="translate(1095.500,30) rotate(-90)" y="3.500">1126</text></g>
<g id="r1128"><rect class="m or" x="1104.400" y="13" width="17.800" height="34"/><text class="n" transform="translate(1113.300,30) rotate(-90)" y="3.500">1128</text></g>
<g id="r1130"><rect class="m or" x="1122.200" y="13" width="17.800" height="34"/><text class="n" transform="translate(1131.100,30) rotate(-90)" y="3.500">1130</text></g>
<g id="r1121"><rect class="m ye" x="1051" y="55" width="17.800" height="34"/><text class="n" transform="translate(1059.900,72) rotate(-90)" y="3.500">1121</text></g>
<g id="r1123"><rect class="m ye" x="1068.800" y="55" width="17.800" height="34"/><text class="n" transform="translate(1077.700,72) rotate(-90)" y="3.500">1123</text></g>
<g id="r1125"><rect class="m ye" x="1086.600" y="55" width="17.800" height="34"/><text class="n" transform="translate(1095.500,72) rotate(-90)" y="3.500">1125</text></g>
<g id="r1127"><rect class="m ye" x="1104.400" y="55" width="17.800" height="34"/><text class="n" transform="translate(1113.300,72) rotate(-90)" y="3.500">1127</text></g>
<g id="r1129"><rect class="m ye" x="1122.200" y="55" width="17.800" height="34"/><text class="n" transform="translate(1131.100,72) rotate(-90)" y="3.500">1129</text></g>
</g>
</svg>
